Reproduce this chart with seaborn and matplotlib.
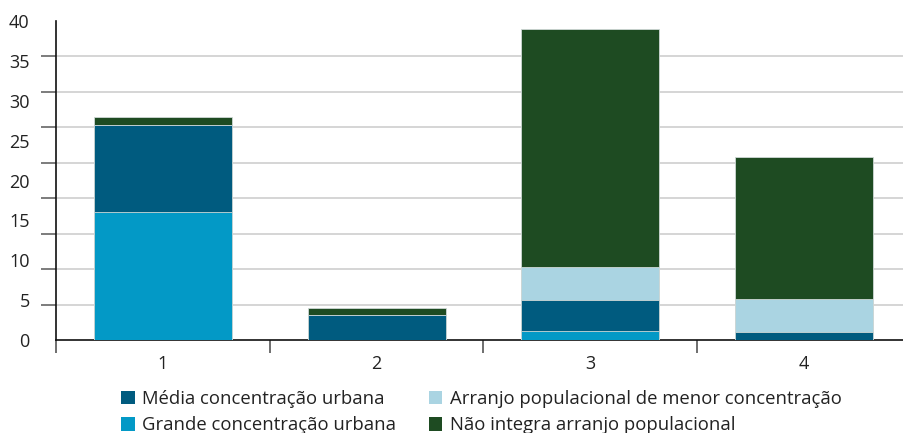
import numpy as np
import pandas as pd
import seaborn as sns
import matplotlib
matplotlib.use("Agg")
import matplotlib.pyplot as plt
from matplotlib.patches import Patch

# Categories and stacked series (bottom to top)
categories = ["1", "2", "3", "4"]
grande = [16.1, 0.0, 1.1, 0.0]
media = [10.9, 3.1, 3.9, 1.0]
arranjo = [0.0, 0.0, 4.1, 4.1]
nao_integra = [1.0, 0.95, 29.9, 17.9]

series_names = [
    "Grande concentração urbana",
    "Média concentração urbana",
    "Arranjo populacional de menor concentração",
    "Não integra arranjo populacional",
]
series_values = [grande, media, arranjo, nao_integra]
series_colors = ["#0399c6", "#005b7f", "#aad4e2", "#1e4b22"]

y_labels = [0, 5, 10, 15, 20, 25, 30, 35, 40]

sns.set_theme(style="white")
plt.rcParams["font.family"] = ["Open Sans", "DejaVu Sans"]

# Cumulative tops for stacking
rows = []
running = np.zeros(len(categories))
for name, vals in zip(series_names, series_values):
    running = running + np.array(vals)
    for cat, top in zip(categories, running):
        rows.append({"categoria": cat, "serie": name, "topo": top})
df = pd.DataFrame(rows)

fig = plt.figure(figsize=(9.04, 4.33), dpi=100)
W, H = 904, 433
ax = fig.add_axes([56 / W, (H - 340) / H, (911 - 56) / W, (340 - 21) / H])

# Draw tallest layer first so lower layers sit on top of it
for name, color in reversed(list(zip(series_names, series_colors))):
    sub = df[df["serie"] == name]
    sns.barplot(data=sub, x="categoria", y="topo", order=categories,
                color=color, width=0.646, edgecolor="#cfd8d6", linewidth=0.6,
                saturation=1, ax=ax, zorder=3)

ax.set_xlim(-0.5, 3.5)
ax.set_ylim(0, 40)
ax.set_xlabel("")
ax.set_ylabel("")

# Labels at 0..40; gridlines and tick marks on a separate set of positions
ax.set_yticks(y_labels)
ax.set_yticklabels([str(v) for v in y_labels])
ax.set_yticks(np.linspace(0, 40, 10), minor=True)
ax.tick_params(axis="y", which="major", length=0, pad=19, labelsize=13,
               labelcolor="#222222")
ax.tick_params(axis="y", which="minor", left=True, length=11, width=1.2,
               color="#666666", direction="out")
ax.grid(False)
ax.yaxis.grid(True, which="minor", color="#d2d2d2", linewidth=1.3, zorder=0)
ax.set_axisbelow(True)

ax.set_xticks(range(len(categories)))
ax.set_xticklabels(categories)
ax.set_xticks([-0.5, 0.5, 1.5, 2.5], minor=True)
ax.tick_params(axis="x", which="major", length=0, pad=11, labelsize=13,
               labelcolor="#222222")
ax.tick_params(axis="x", which="minor", bottom=True, length=9, width=1.2,
               color="#555555", direction="out")

for side in ["top", "right"]:
    ax.spines[side].set_visible(False)
for side in ["left", "bottom"]:
    ax.spines[side].set_color("#111111")
    ax.spines[side].set_linewidth(1.2)

handle_order = [1, 0, 2, 3]
handles = [Patch(facecolor=series_colors[i], edgecolor="none") for i in handle_order]
labels = [series_names[i] for i in handle_order]
fig.legend(handles, labels, ncol=2, loc="upper left",
           bbox_to_anchor=(121 / W, 1 - 390 / H), frameon=False,
           fontsize=13.3, handlelength=0.75, handleheight=0.75,
           handletextpad=0.4, columnspacing=1.75, labelspacing=0.45,
           borderaxespad=0, borderpad=0, labelcolor="#222222")

fig.savefig("out.png", dpi=100)
